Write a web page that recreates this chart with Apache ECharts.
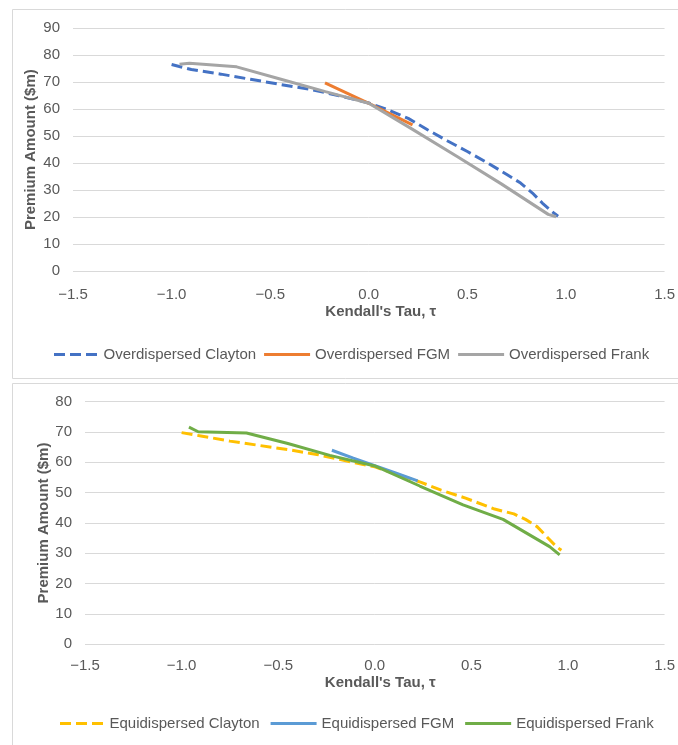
<!DOCTYPE html>
<html>
<head>
<meta charset="utf-8">
<script src="https://cdn.jsdelivr.net/npm/echarts@6/dist/echarts.min.js"></script>
<style>
  html, body { margin: 0; padding: 0; background: #fff; }
  #chart { width: 678px; height: 745px; }
</style>
</head>
<body>
<div id="chart"></div>
<script>
// ---- Data ----
var xTicks = [-1.5, -1.0, -0.5, 0.0, 0.5, 1.0, 1.5];
var topYTicks = [0, 10, 20, 30, 40, 50, 60, 70, 80, 90];
var bottomYTicks = [0, 10, 20, 30, 40, 50, 60, 70, 80];

var seriesNamesTop = ['Overdispersed Clayton', 'Overdispersed FGM', 'Overdispersed Frank'];
var seriesNamesBottom = ['Equidispersed Clayton', 'Equidispersed FGM', 'Equidispersed Frank'];

// Overdispersed
var overClaytonTau = [-1.0, -0.9, -0.75, -0.6, -0.45, -0.3, -0.15, 0.0, 0.1, 0.2, 0.3, 0.4, 0.5, 0.6, 0.7, 0.77, 0.83, 0.88, 0.93, 0.96];
var overClaytonPrem = [76.6, 74.7, 73.0, 71.1, 69.2, 67.4, 65.0, 62.3, 59.7, 56.6, 52.3, 48.2, 44.3, 40.2, 35.8, 32.6, 28.9, 25.2, 22.0, 20.3];
var overFGMTau = [-0.222, -0.111, 0.0, 0.111, 0.222];
var overFGMPrem = [69.8, 66.0, 62.2, 58.2, 54.2];
var overFrankTau = [-0.96, -0.91, -0.67, -0.45, -0.22, 0.0, 0.22, 0.45, 0.67, 0.91, 0.95];
var overFrankPrem = [76.7, 77.0, 75.7, 71.2, 66.5, 62.2, 52.6, 42.4, 32.4, 21.0, 20.1];

// Equidispersed
var eqClaytonTau = [-1.0, -0.9, -0.75, -0.6, -0.45, -0.3, -0.15, 0.0, 0.12, 0.24, 0.34, 0.47, 0.62, 0.72, 0.78, 0.84, 0.89, 0.94, 0.966];
var eqClaytonPrem = [69.8, 68.7, 67.0, 65.6, 64.2, 62.6, 60.5, 58.5, 56.0, 53.4, 50.9, 48.2, 44.6, 43.0, 41.2, 38.8, 35.5, 32.2, 31.0];
var eqFGMTau = [-0.222, -0.111, 0.0, 0.111, 0.222];
var eqFGMPrem = [64.0, 61.4, 58.9, 56.4, 53.9];
var eqFrankTau = [-0.962, -0.914, -0.664, -0.45, -0.233, 0.0, 0.233, 0.457, 0.664, 0.905, 0.957];
var eqFrankPrem = [71.6, 70.1, 69.7, 66.2, 62.3, 58.8, 52.2, 46.0, 41.2, 32.2, 29.5];

// ---- Build ----
function pairs(xs, ys) { return xs.map(function (x, i) { return [x, ys[i]]; }); }

var FONT = "'Liberation Sans', Arial, sans-serif";
var TXT = '#595959';
var GRID = '#d9d9d9';
var DASH_ICON = 'path://M0,0h11v3h-11z M16,0h11v3h-11z M32,0h11v3h-11z';
var SOLID_ICON = 'path://M0,0h46v3h-46z';

function fmtTick(v) {
  var s = Math.abs(v).toFixed(1);
  return v < 0 ? '\u2212' + s : s;
}

function xAxisCfg(gridIndex, margin, nameGap, padLeft) {
  return {
    gridIndex: gridIndex, type: 'value',
    min: xTicks[0], max: xTicks[xTicks.length - 1], interval: 0.5,
    axisLine: { show: false }, axisTick: { show: false }, splitLine: { show: false },
    axisLabel: { color: TXT, fontSize: 15, fontFamily: FONT, margin: margin, formatter: fmtTick },
    name: "Kendall's Tau, \u03c4", nameLocation: 'middle', nameGap: nameGap, nameMoveOverlap: false,
    nameTextStyle: { color: TXT, fontSize: 15, fontWeight: 'bold', fontFamily: FONT, padding: [0, 0, 0, padLeft] }
  };
}
function yAxisCfg(gridIndex, ticks, nameGap) {
  return {
    gridIndex: gridIndex, type: 'value',
    min: ticks[0], max: ticks[ticks.length - 1], interval: 10,
    axisLine: { show: false }, axisTick: { show: false },
    splitLine: { show: true, lineStyle: { color: GRID, width: 1 } },
    axisLabel: { color: TXT, fontSize: 15, fontFamily: FONT, margin: 13 },
    name: 'Premium Amount ($m)', nameLocation: 'middle', nameGap: nameGap, nameMoveOverlap: false,
    nameTextStyle: { color: TXT, fontSize: 15, fontWeight: 'bold', fontFamily: FONT }
  };
}
function lineSeries(name, idx, data, color, dashed) {
  return {
    name: name, type: 'line', xAxisIndex: idx, yAxisIndex: idx,
    data: data, symbol: 'none', showSymbol: false, smooth: false,
    lineStyle: { color: color, width: 3, type: dashed ? [11, 5] : 'solid' },
    itemStyle: { color: color },
    emphasis: { disabled: true }
  };
}
function legendCfg(names, left, top, gap) {
  return {
    data: [
      { name: names[0], icon: DASH_ICON },
      { name: names[1], icon: SOLID_ICON },
      { name: names[2], icon: SOLID_ICON }
    ],
    left: left, top: top, itemWidth: 46, itemHeight: 3, itemGap: gap,
    textStyle: { color: TXT, fontSize: 15, fontFamily: FONT }
  };
}

var option = {
  animation: false,
  backgroundColor: '#fff',
  graphic: [
    { type: 'rect', shape: { x: 12.5, y: 9.5, width: 700, height: 369 }, style: { fill: 'none', stroke: GRID, lineWidth: 1 }, silent: true },
    { type: 'rect', shape: { x: 12.5, y: 383.5, width: 700, height: 400 }, style: { fill: 'none', stroke: GRID, lineWidth: 1 }, silent: true }
  ],
  grid: [
    { left: 73, top: 28.3, width: 593, height: 242.7, containLabel: false },
    { left: 85, top: 401.7, width: 580, height: 242.6, containLabel: false }
  ],
  xAxis: [xAxisCfg(0, 16, 33.5, 24), xAxisCfg(1, 14, 31, 11)],
  yAxis: [yAxisCfg(0, topYTicks, 35), yAxisCfg(1, bottomYTicks, 34)],
  legend: [
    legendCfg(seriesNamesTop, 49, 342, 8),
    legendCfg(seriesNamesBottom, 55, 711, 11)
  ],
  series: [
    lineSeries(seriesNamesTop[0], 0, pairs(overClaytonTau, overClaytonPrem), '#4472C4', true),
    lineSeries(seriesNamesTop[1], 0, pairs(overFGMTau, overFGMPrem), '#ED7D31', false),
    lineSeries(seriesNamesTop[2], 0, pairs(overFrankTau, overFrankPrem), '#A5A5A5', false),
    lineSeries(seriesNamesBottom[0], 1, pairs(eqClaytonTau, eqClaytonPrem), '#FFC000', true),
    lineSeries(seriesNamesBottom[1], 1, pairs(eqFGMTau, eqFGMPrem), '#5B9BD5', false),
    lineSeries(seriesNamesBottom[2], 1, pairs(eqFrankTau, eqFrankPrem), '#70AD47', false)
  ]
};

var chart = echarts.init(document.getElementById('chart'), null, { renderer: 'canvas' });
chart.setOption(option);
</script>
</body>
</html>
